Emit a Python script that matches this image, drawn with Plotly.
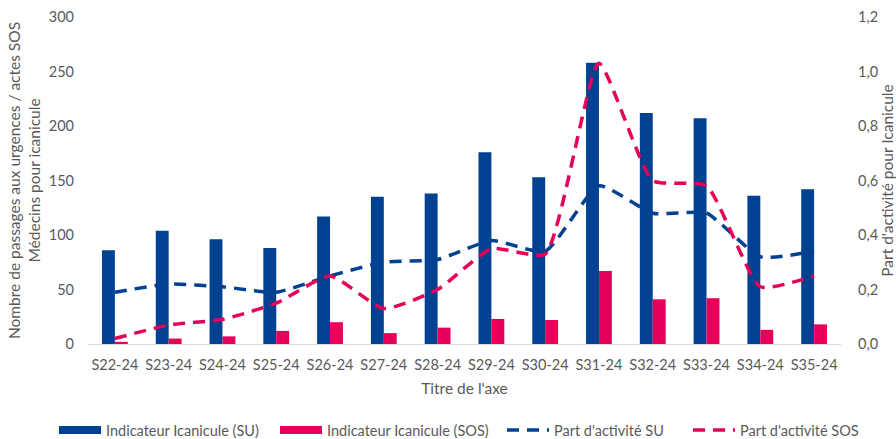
import plotly.graph_objects as go

# Weekly heat-wave indicator (S22-24 to S35-24)
weeks = ["S22-24", "S23-24", "S24-24", "S25-24", "S26-24", "S27-24", "S28-24",
         "S29-24", "S30-24", "S31-24", "S32-24", "S33-24", "S34-24", "S35-24"]

# Number of ER visits / SOS Médecins consultations for heat-related illness
su_counts = [86, 104, 96, 88, 117, 135, 138, 176, 153, 258, 212, 207, 136, 142]
sos_counts = [2, 5, 7, 12, 20, 10, 15, 23, 22, 67, 41, 42, 13, 18]

# Share of activity (%)
su_share = [0.19, 0.22, 0.21, 0.19, 0.25, 0.30, 0.31, 0.38, 0.34, 0.58, 0.48, 0.48, 0.32, 0.34]
sos_share = [0.02, 0.07, 0.09, 0.15, 0.25, 0.13, 0.20, 0.35, 0.33, 1.03, 0.60, 0.58, 0.21, 0.25]

BLUE = "#004191"
PINK = "#E6005A"
GREY = "#595959"
FONT = "Lato, Open Sans, sans-serif"
TICK = 14.5
TITLE = 15.5
W = 896
H = 439

fig = go.Figure()

fig.add_trace(go.Bar(x=weeks, y=su_counts, name="Indicateur Icanicule (SU)",
                     marker=dict(color=BLUE, line=dict(width=0)),
                     showlegend=False, yaxis="y"))
fig.add_trace(go.Bar(x=weeks, y=sos_counts, name="Indicateur Icanicule (SOS)",
                     marker=dict(color=PINK, line=dict(width=0)),
                     showlegend=False, yaxis="y"))

# legend entries for the bars, drawn as wide solid swatches
fig.add_trace(go.Scatter(x=[None], y=[None], mode="lines", name="Indicateur Icanicule (SU)",
                         line=dict(color=BLUE, width=8), hoverinfo="skip", legend="legend"))
fig.add_trace(go.Scatter(x=[None], y=[None], mode="lines", name="Indicateur Icanicule (SOS)",
                         line=dict(color=PINK, width=8), hoverinfo="skip", legend="legend2"))

fig.add_trace(go.Scatter(x=weeks, y=su_share, name="Part d'activité SU", mode="lines",
                         line=dict(color=BLUE, width=3.5, dash="12px,8px",
                                   shape="spline", smoothing=0.5),
                         yaxis="y2", legend="legend3"))
fig.add_trace(go.Scatter(x=weeks, y=sos_share, name="Part d'activité SOS", mode="lines",
                         line=dict(color=PINK, width=3.5, dash="12px,8px",
                                   shape="spline", smoothing=0.5),
                         yaxis="y2", legend="legend4"))


def legend_box(left_px):
    # one legend per entry so each sits at its own horizontal position
    return dict(orientation="h", xref="container", yref="container",
                x=left_px / W, y=9 / H, xanchor="left", yanchor="middle",
                itemwidth=42, font=dict(size=TICK, color=GREY),
                bgcolor="rgba(0,0,0,0)")


fig.update_layout(
    width=W, height=H,
    margin=dict(l=88, r=55, t=17, b=95, autoexpand=False),
    paper_bgcolor="white", plot_bgcolor="white",
    font=dict(family=FONT, size=TICK, color=GREY),
    separators=", ",
    barmode="group", bargap=0.52, bargroupgap=0,
    showlegend=True,
    legend=legend_box(54),
    legend2=legend_box(275),
    legend3=legend_box(502),
    legend4=legend_box(688),
    xaxis=dict(showgrid=False, showline=True, linecolor="#D9D9D9", linewidth=1,
               automargin=False, ticks="", ticklabelstandoff=8,
               tickfont=dict(size=TICK, color=GREY),
               title=dict(text="Titre de l'axe", font=dict(size=TITLE, color=GREY), standoff=10)),
    yaxis=dict(range=[0, 300], dtick=50, showgrid=False, zeroline=False,
               automargin=False, showline=False, ticks="", ticklabelstandoff=13,
               tickfont=dict(size=TICK, color=GREY),
               title=dict(text="Nombre de passages aux urgences / actes SOS<br>Médecins pour icanicule",
                          font=dict(size=TITLE, color=GREY), standoff=4)),
    yaxis2=dict(range=[0, 1.2], dtick=0.2, tickformat=".1f", overlaying="y", side="right",
                automargin=False, showgrid=False, zeroline=False, showline=False, ticks="",
                ticklabelstandoff=16, tickfont=dict(size=TICK, color=GREY),
                title=dict(text="Part d'activité pour Icanicule",
                           font=dict(size=TITLE, color=GREY), standoff=16)),
)

fig.write_html("out.html")
